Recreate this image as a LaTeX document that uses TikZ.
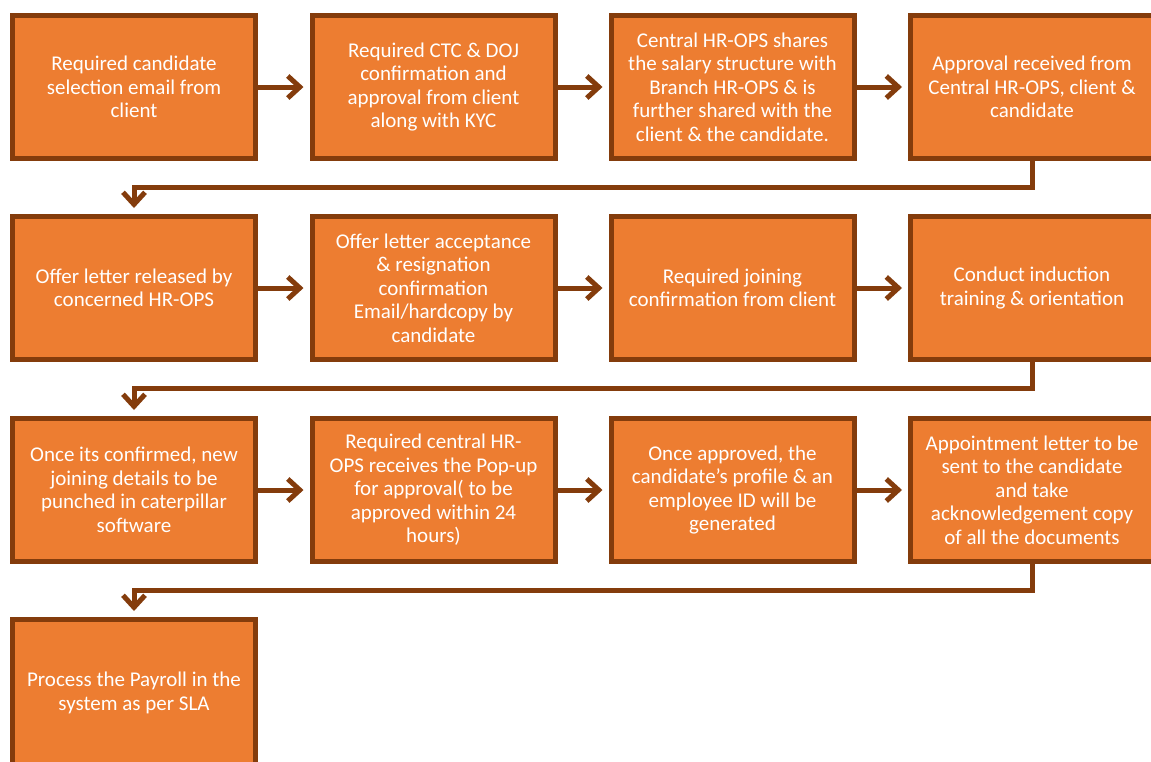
\documentclass[tikz,border=0pt]{standalone}
\usepackage{fontspec}
\setmainfont{Carlito}
\usetikzlibrary{arrows.meta,calc}
\definecolor{stepfill}{HTML}{ED7D31}
\definecolor{stepline}{HTML}{843C0C}
\begin{document}
\begin{tikzpicture}[x=1pt,y=-1pt,
  stepbox/.style={draw=stepline, fill=stepfill, line width=5pt,
    minimum width=243pt, minimum height=143pt, inner sep=0pt,
    align=center, text=white,
    font=\fontsize{21}{23.5}\selectfont},
  flow/.style={draw=stepline, line width=5pt,
    -{Straight Barb[length=12pt,width=22pt]}},
  elbow/.style={draw=stepline, line width=5pt,
    -{Straight Barb[length=12pt,width=22pt]}}]
\useasboundingbox (0,0) rectangle (1151,761);

% row 1
\node[stepbox] (s1) at (134,87) {Required candidate\\selection email from\\client};
\node[stepbox] (s2) at (433.5,87) {Required CTC \& DOJ\\confirmation and\\approval from client\\along with KYC};
\node[stepbox] (s3) at (732.5,87) {Central HR-OPS shares\\the salary structure with\\Branch HR-OPS \& is\\further shared with the\\client \& the candidate.};
\node[stepbox] (s4) at (1032,87) {Approval received from\\Central HR-OPS, client \&\\candidate};

% row 2
\node[stepbox] (s5) at (134,288) {Offer letter released by\\concerned HR-OPS};
\node[stepbox] (s6) at (433.5,288) {Offer letter acceptance\\\& resignation\\confirmation\\Email/hardcopy by\\candidate};
\node[stepbox] (s7) at (732.5,288) {Required joining\\confirmation from client};
\node[stepbox] (s8) at (1032,288) {Conduct induction\\training \& orientation};

% row 3
\node[stepbox] (s9) at (134,490) {Once its confirmed, new\\joining details to be\\punched in caterpillar\\software};
\node[stepbox] (s10) at (433.5,490) {Required central HR-\\OPS receives the Pop-up\\for approval( to be\\approved within 24\\hours)};
\node[stepbox] (s11) at (732.5,490) {Once approved, the\\candidate’s profile \& an\\employee ID will be\\generated};
\node[stepbox] (s12) at (1032,490) {Appointment letter to be\\sent to the candidate\\and take\\acknowledgement copy\\of all the documents};

% row 4 (runs past the lower edge)
\node[stepbox, minimum height=153pt] (s13) at (134,696) {};
\node[font=\fontsize{21}{23.5}\selectfont, text=white, align=center] (t13) at (134,693) {Process the Payroll in the\\system as per SLA};

% arrows within each row
\foreach \a/\b in {s1/s2,s2/s3,s3/s4,s5/s6,s6/s7,s7/s8,s9/s10,s10/s11,s11/s12}
  \draw[flow] (\a.east) -- ($(\b.west)+(-6,0)$);

% row-to-row elbow connectors
\foreach \a/\b in {s4/s5,s8/s9,s12/s13}
  \draw[elbow] (\a.south) -- ++(0,26) -| ($(\b.north)+(0,-6)$);
\end{tikzpicture}
\end{document}
